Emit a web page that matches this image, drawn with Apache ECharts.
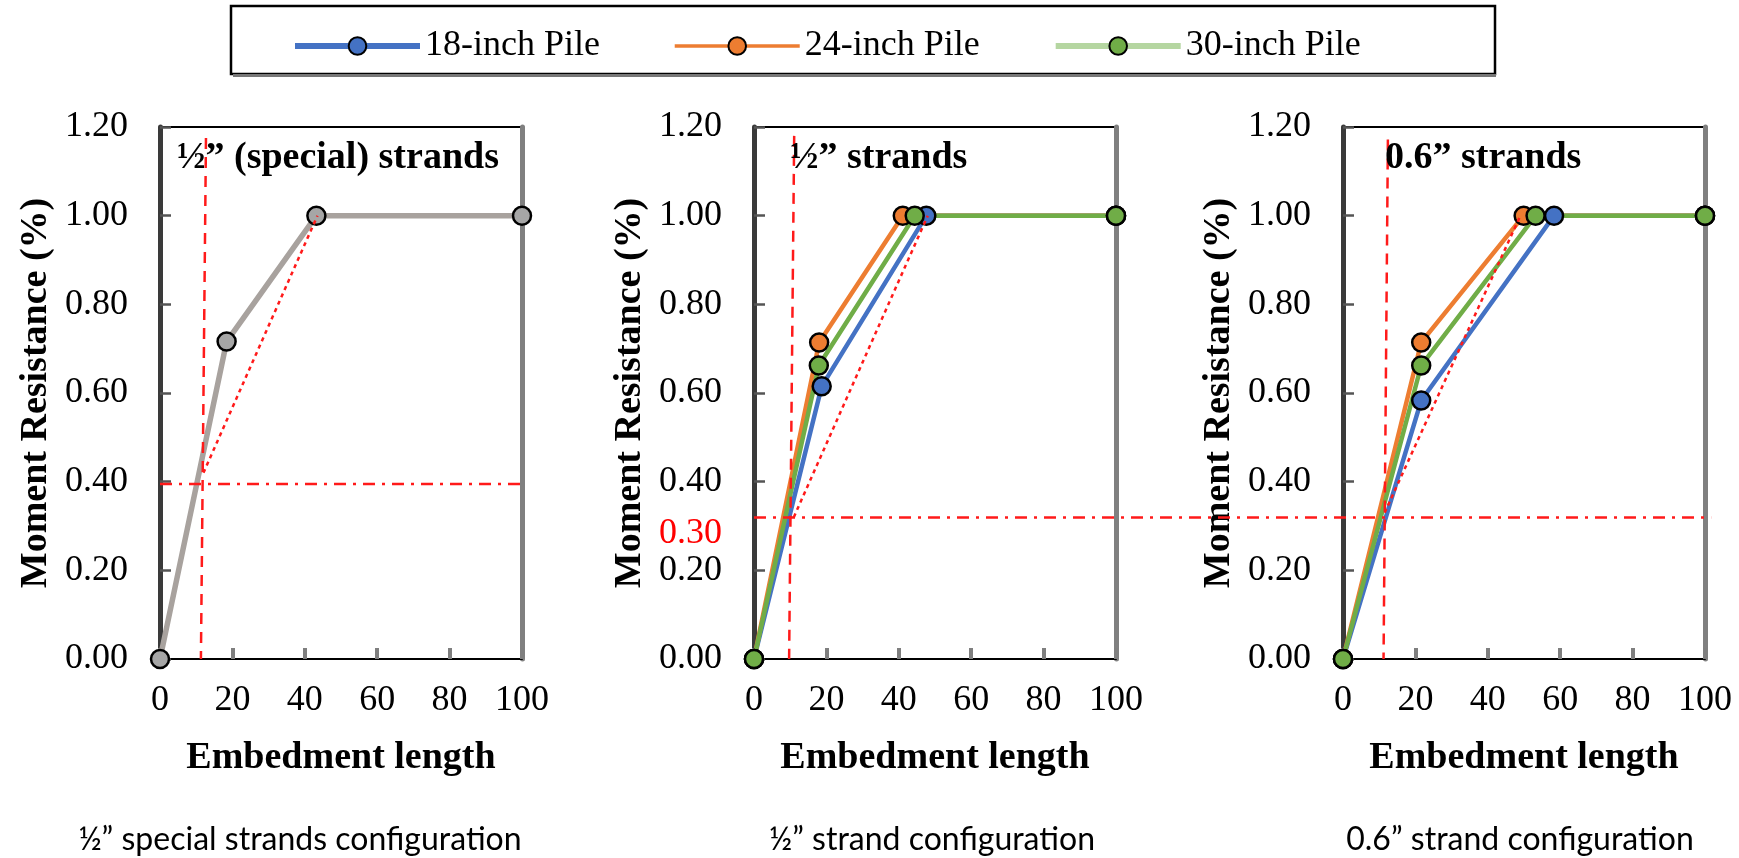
<!DOCTYPE html>
<html>
<head>
<meta charset="utf-8">
<title>Moment resistance vs embedment length</title>
<script src="https://cdn.jsdelivr.net/npm/echarts@6/dist/echarts.min.js"></script>
<style>
  html, body { margin: 0; padding: 0; background: #fff; }
  #chart { width: 1739px; height: 858px; }
</style>
</head>
<body>
<div id="chart"></div>
<script>
var serif = '"Liberation Serif", "Times New Roman", serif';

// legend / series names
var pileNames = ['18-inch Pile', '24-inch Pile', '30-inch Pile'];
var pileColors = ['#4472c4', '#ed7d31', '#70ad47'];

// panel 1 : 1/2" special strands (all piles coincide)
var specialStrand = [[0, 0], [18.4, 0.716], [43.2, 1.0], [100, 1.0]];

// panel 2 : 1/2" strands
var halfPile18 = [[0, 0], [18.7, 0.615], [47.6, 1.0], [100, 1.0]];
var halfPile24 = [[0, 0], [18.0, 0.714], [41.1, 1.0], [100, 1.0]];
var halfPile30 = [[0, 0], [17.9, 0.662], [44.4, 1.0], [100, 1.0]];

// panel 3 : 0.6" strands
var sixPile18 = [[0, 0], [21.6, 0.583], [58.3, 1.0], [100, 1.0]];
var sixPile24 = [[0, 0], [21.6, 0.714], [49.9, 1.0], [100, 1.0]];
var sixPile30 = [[0, 0], [21.6, 0.662], [53.2, 1.0], [100, 1.0]];

// red construction lines
var refVertical = [
  [[12.7, 1.175], [11.3, 0]],
  [[11.1, 1.18], [9.7, 0]],
  [[12.4, 1.172], [11.2, 0]]
];
var refHorizontal1 = [[0, 0.395], [100, 0.395]];
// level line that starts in panel 2 and runs on to the end of panel 3
var refLevel = 0.319, refLevelFrom = 0, refLevelTo = 101.7;
var refDiagonal = [
  [[12.0, 0.42], [43.5, 1.0]],
  [[11.0, 0.32], [48.0, 1.0]],
  [[11.5, 0.33], [49.0, 1.0]]
];
var redLabel = { text: '0.30', value: 0.284 };

// axes
var xMin = 0, xMax = 100, xStep = 20;
var yMin = 0, yMax = 1.2, yStep = 0.2;

var panelLabels = ['\u00bd\u201d (special) strands', '\u00bd\u201d strands', '0.6\u201d strands'];
var captions = ['\u00bd\u201d special strands configuration', '\u00bd\u201d strand configuration', '0.6\u201d strand configuration'];

// layout
var gridLefts = [160, 754, 1343];
var gridTop = 127, gridWidth = 362, gridHeight = 532;
var labelLefts = [177, 790, 1385];
var captionCenters = [300, 932, 1520];
var dashDot = [12, 7, 3, 7];

var chart = echarts.init(document.getElementById('chart'));

var grids = [], xAxes = [], yAxes = [], series = [];
for (var i = 0; i < 3; i++) {
  grids.push({
    left: gridLefts[i], top: gridTop, width: gridWidth, height: gridHeight,
    show: true, borderColor: '#000', borderWidth: 2, outerBoundsMode: 'none'
  });
  xAxes.push({
    gridIndex: i, type: 'value', min: xMin, max: xMax, interval: xStep,
    name: 'Embedment length', nameLocation: 'middle', nameGap: 80,
    nameTextStyle: { fontFamily: serif, fontWeight: 'bold', fontSize: 38, color: '#000' },
    axisLine: { show: true, onZero: false, lineStyle: { color: '#000', width: 2 } },
    axisTick: { show: true, inside: true, length: 11, lineStyle: { color: '#7f7f7f', width: 4 } },
    axisLabel: { margin: 24, fontFamily: serif, fontSize: 36, color: '#000' },
    splitLine: { show: false }
  });
  yAxes.push({
    gridIndex: i, type: 'value', min: yMin, max: yMax, interval: yStep,
    name: 'Moment Resistance (%)', nameLocation: 'middle', nameGap: 105,
    nameTextStyle: { fontFamily: serif, fontWeight: 'bold', fontSize: 38, color: '#000' },
    axisLine: { show: true, lineStyle: { color: '#3a3a3a', width: 5 } },
    axisTick: { show: true, inside: true, length: 11, lineStyle: { color: '#555', width: 2.5 } },
    axisLabel: {
      margin: 32, fontFamily: serif, fontSize: 36, color: '#000',
      formatter: function (v) { return v.toFixed(2); }
    },
    splitLine: { show: false }
  });
  // right frame edge (grey, thick)
  yAxes.push({
    gridIndex: i, type: 'value', min: yMin, max: yMax, position: 'right',
    axisLine: { show: true, lineStyle: { color: '#808080', width: 5 } },
    axisTick: { show: false }, axisLabel: { show: false }, splitLine: { show: false }
  });
}

function pileSeries(name, color, data, gi, width) {
  return {
    name: name, type: 'line', xAxisIndex: gi, yAxisIndex: gi * 2, data: data,
    symbol: 'circle', symbolSize: 18, z: 3,
    lineStyle: { color: color, width: width || 4.5 },
    itemStyle: { color: color, borderColor: '#000', borderWidth: 2.5 }
  };
}
function refSeries(data, gi, dash) {
  return {
    type: 'line', xAxisIndex: gi, yAxisIndex: gi * 2, data: data,
    symbol: 'none', silent: true, z: 4,
    lineStyle: { color: '#ff1a1a', width: 2.5, type: dash }
  };
}

series.push(pileSeries('Special strands', '#a8a29e', specialStrand, 0, 5.5));
series[0].itemStyle.color = '#a6a6a6';
var halfSets = [halfPile18, halfPile24, halfPile30];
var sixSets = [sixPile18, sixPile24, sixPile30];
for (var k = 0; k < 3; k++) series.push(pileSeries(pileNames[k], pileColors[k], halfSets[k], 1));
for (var k = 0; k < 3; k++) series.push(pileSeries(pileNames[k], pileColors[k], sixSets[k], 2));

for (var i = 0; i < 3; i++) {
  series.push(refSeries(refVertical[i], i, [11, 8]));
  series.push(refSeries(refDiagonal[i], i, [4, 4]));
}
series.push(refSeries(refHorizontal1, 0, dashDot));

var option = {
  animation: false,
  backgroundColor: '#fff',
  title: panelLabels.map(function (t, i) {
    return {
      text: t, left: labelLefts[i], top: 139, padding: 0,
      textStyle: { fontFamily: serif, fontWeight: 'bold', fontSize: 38, color: '#000' }
    };
  }),
  legend: {
    data: [
      { name: pileNames[0], lineStyle: { width: 6 } },
      { name: pileNames[1], lineStyle: { width: 3.5 } },
      { name: pileNames[2], lineStyle: { color: '#b5d6a1', width: 6 } }
    ],
    left: 287, top: 23, itemWidth: 125, itemHeight: 22, itemGap: 73,
    textStyle: { fontFamily: serif, fontSize: 36, color: '#000' }
  },
  grid: grids,
  xAxis: xAxes,
  yAxis: yAxes,
  series: series
};
chart.setOption(option);

var graphics = [{
  type: 'rect', shape: { x: 231, y: 6, width: 1264, height: 68 },
  style: { fill: 'none', stroke: '#000', lineWidth: 2.5 }
}, {
  type: 'line', shape: { x1: 233, y1: 75.5, x2: 1496, y2: 75.5 },
  style: { stroke: '#777', lineWidth: 3 }
}];
captions.forEach(function (c, i) {
  graphics.push({
    type: 'text', x: captionCenters[i], y: 840,
    style: { text: c, fontFamily: 'Lato', fontSize: 32, fill: '#000', align: 'center', verticalAlign: 'middle' }
  });
});
var p = chart.convertToPixel({ gridIndex: 1 }, [0, redLabel.value]);
graphics.push({
  type: 'text', x: p[0] - 32, y: p[1],
  style: { text: redLabel.text, fontFamily: serif, fontSize: 36, fill: '#ff0000', align: 'right', verticalAlign: 'middle' }
});
var a = chart.convertToPixel({ gridIndex: 1 }, [refLevelFrom, refLevel]);
var b = chart.convertToPixel({ gridIndex: 2 }, [refLevelTo, refLevel]);
graphics.push({
  type: 'line', z: 10, silent: true,
  shape: { x1: a[0], y1: a[1], x2: b[0], y2: a[1] },
  style: { stroke: '#ff1a1a', lineWidth: 2.5, lineDash: dashDot }
});
chart.setOption({ graphic: graphics });
</script>
</body>
</html>
